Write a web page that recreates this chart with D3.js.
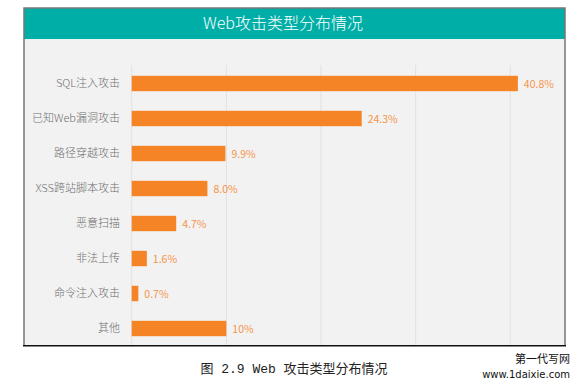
<!DOCTYPE html>
<html><head><meta charset="utf-8">
<script src="https://cdn.jsdelivr.net/npm/d3@7"></script>
<style>body{margin:0;background:#fff;}svg{display:block;}</style>
</head><body>
<svg id="chart" width="584" height="388"></svg>
<script>
const categories = ["SQL注入攻击","已知Web漏洞攻击","路径穿越攻击","XSS跨站脚本攻击","恶意扫描","非法上传","命令注入攻击","其他"];
const values = [40.8, 24.3, 9.9, 8.0, 4.7, 1.6, 0.7, 10];
const valueLabels = ["40.8%","24.3%","9.9%","8.0%","4.7%","1.6%","0.7%","10%"];
const gridTicks = [0, 10, 20, 30, 40];
const title = "Web攻击类型分布情况";
const caption = "图 2.9 Web 攻击类型分布情况";
const watermark = ["第一代写网", "www.1daixie.com"];

const svg = d3.select("#chart");
const cjk = "'Noto Sans CJK SC','Noto Sans',sans-serif";

// frame background
svg.append("rect").attr("x",24).attr("y",8).attr("width",541).attr("height",338).attr("fill","#F2F2F2");
// header
svg.append("rect").attr("x",24).attr("y",8).attr("width",541).attr("height",31).attr("fill","#00AEA8");
svg.append("text").attr("x",283).attr("y",29).attr("text-anchor","middle")
  .attr("font-family",cjk).attr("font-size",16).attr("font-weight",300).attr("fill","#fff").text(title);
// borders
svg.append("path").attr("d","M24,346 L24,8 L565,8 L565,346").attr("fill","none").attr("stroke","#777").attr("stroke-width",1.5);
svg.append("line").attr("x1",23).attr("x2",566).attr("y1",345.8).attr("y2",345.8).attr("stroke","#111").attr("stroke-width",1.5);

const x = d3.scaleLinear().domain([0,40]).range([131.7,510.3]);
const y = d3.scaleBand().domain(categories).range([66,346]).paddingInner(0.56).paddingOuter(0.28);

// grid
svg.append("g").selectAll("line").data(gridTicks).join("line")
  .attr("x1",d=>x(d)).attr("x2",d=>x(d)).attr("y1",65).attr("y2",345)
  .attr("stroke","#E1E1E1").attr("stroke-width",1);

// bars
svg.append("g").selectAll("rect").data(values).join("rect")
  .attr("x",x(0)).attr("y",(d,i)=>y(categories[i]))
  .attr("width",d=>x(d)-x(0)).attr("height",y.bandwidth())
  .attr("fill","#F58426");

// value labels
svg.append("g").selectAll("text").data(values).join("text")
  .attr("x",d=>x(d)+6).attr("y",(d,i)=>y(categories[i])+y.bandwidth()/2+4)
  .attr("font-family",cjk).attr("font-size",10.5).attr("fill","#F5944A")
  .text((d,i)=>valueLabels[i]);

// category labels via axis
const yAxis = svg.append("g").attr("transform","translate(125,0)")
  .call(d3.axisLeft(y).tickSize(0).tickPadding(5));
yAxis.select(".domain").remove();
yAxis.selectAll("text").attr("font-family",cjk).attr("font-size",11).attr("font-weight",300).attr("fill","#6e6e6e");

// caption
svg.append("text").attr("x",294).attr("y",373).attr("text-anchor","middle")
  .attr("font-family","'Liberation Mono','Noto Sans CJK SC',monospace").attr("font-size",13).attr("fill","#222").text(caption);
// watermark
svg.append("text").attr("x",570).attr("y",363).attr("text-anchor","end")
  .attr("font-family",cjk).attr("font-size",11).attr("fill","#111").text(watermark[0]);
svg.append("text").attr("x",570).attr("y",378).attr("text-anchor","end")
  .attr("font-family","'DejaVu Sans',sans-serif").attr("font-size",10).attr("fill","#111").text(watermark[1]);
</script>
</body></html>
